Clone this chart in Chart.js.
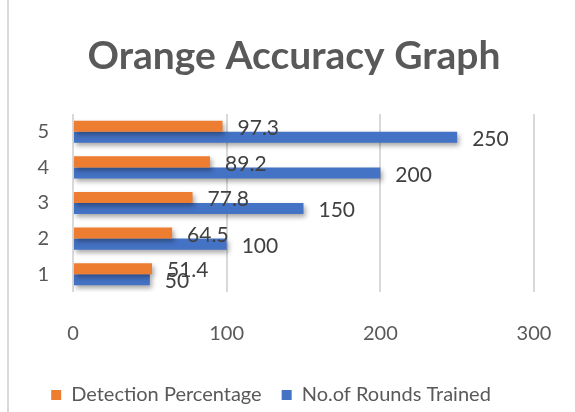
<!DOCTYPE html>
<html>
<head>
<meta charset="utf-8">
<script src="https://cdn.jsdelivr.net/npm/chart.js@4"></script>
<style>
  html, body { margin: 0; padding: 0; background: #fff; }
  #wrap { position: relative; width: 575px; height: 412px; }
  #frame { position: absolute; left: 7px; top: 0; width: 2px; height: 412px; background: #d9d9d9; }
</style>
</head>
<body>
<div id="wrap">
  <div id="frame"></div>
  <canvas id="chart" width="575" height="412"></canvas>
</div>
<script>
// data
const categories = ["1", "2", "3", "4", "5"];
const detectionPct = [51.4, 64.5, 77.8, 89.2, 97.3];
const roundsTrained = [50, 100, 150, 200, 250];
const xTicks = [0, 100, 200, 300];
const titleText = "Orange Accuracy Graph";

const FONT = "Lato, 'Open Sans', sans-serif";
const GREY = "#595959";

// soft shadow under bars, like the office chart
const barShadow = {
  id: "barShadow",
  beforeDatasetsDraw(chart) {
    const ctx = chart.ctx;
    ctx.save();
    ctx.shadowColor = "rgba(0,0,0,0.35)";
    ctx.shadowBlur = 5;
    ctx.shadowOffsetX = 2;
    ctx.shadowOffsetY = 3;
  },
  afterDatasetsDraw(chart) {
    chart.ctx.restore();
  }
};

// value labels at bar ends + the title (centred on the whole box, not the plot)
const valueLabels = {
  id: "valueLabels",
  afterDraw(chart) {
    const ctx = chart.ctx;
    ctx.save();
    ctx.font = "21px " + FONT;
    ctx.fillStyle = "#404040";
    ctx.textAlign = "left";
    ctx.textBaseline = "middle";
    chart.data.datasets.forEach((ds, i) => {
      chart.getDatasetMeta(i).data.forEach((bar, j) => {
        ctx.fillText(String(ds.data[j]), bar.x + 15, bar.y + 2);
      });
    });

    ctx.font = "bold 39px " + FONT;
    ctx.fillStyle = GREY;
    ctx.textAlign = "center";
    ctx.fillText(titleText, 294, 56);
    ctx.restore();
  }
};

new Chart(document.getElementById("chart"), {
  type: "bar",
  data: {
    labels: categories,
    datasets: [
      { label: "Detection Percentage", data: detectionPct, backgroundColor: "#ED7D31" },
      { label: "No.of Rounds Trained", data: roundsTrained, backgroundColor: "#4472C4" }
    ]
  },
  options: {
    indexAxis: "y",
    responsive: false,
    animation: false,
    layout: { padding: { left: 8, right: 41, top: 114, bottom: 0 } },
    datasets: { bar: { categoryPercentage: 0.62, barPercentage: 1.0 } },
    scales: {
      x: {
        min: 0,
        max: 300,
        afterBuildTicks: (scale) => { scale.ticks = xTicks.map(v => ({ value: v })); },
        afterFit: (scale) => {
          scale.height = 73;
          scale.paddingLeft = 0;
          scale.paddingRight = 0;
        },
        grid: { color: "#d9d9d9", lineWidth: 2, drawTicks: false },
        border: { display: false },
        ticks: { padding: 30, color: GREY, font: { family: FONT, size: 20 } }
      },
      y: {
        reverse: true,
        afterFit: (scale) => { scale.width = 65; },
        grid: { display: false, drawTicks: false },
        border: { display: false },
        ticks: { padding: 24, color: GREY, font: { family: FONT, size: 20 } }
      }
    },
    plugins: {
      title: { display: false },
      legend: {
        position: "bottom",
        maxHeight: 47, // padding 20 spaces the items apart; keep the box short
        labels: {
          color: GREY,
          boxWidth: 10,
          boxHeight: 10,
          padding: 20,
          font: { family: FONT, size: 20 }
        }
      },
      tooltip: { enabled: false }
    }
  },
  plugins: [barShadow, valueLabels]
});
</script>
</body>
</html>
